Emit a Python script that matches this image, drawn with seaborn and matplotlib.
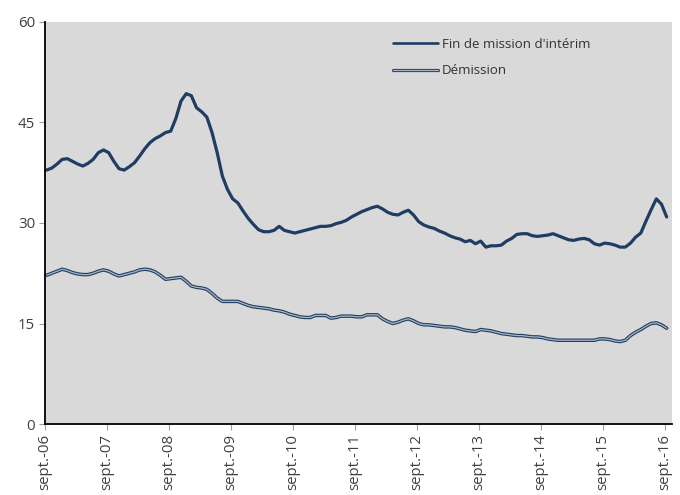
import numpy as np
import pandas as pd
import matplotlib
matplotlib.use("Agg")
import matplotlib.pyplot as plt
import matplotlib.patheffects as pe
import seaborn as sns

# Monthly data, sept. 2006 -> sept. 2016
fin_mission = [
    37.9, 38.2, 38.8, 39.5, 39.6, 39.2, 38.8, 38.5, 38.9, 39.5,
    40.5, 40.9, 40.5, 39.2, 38.1, 37.9, 38.4, 39.0, 40.0, 41.1,
    42.0, 42.6, 43.0, 43.5, 43.7, 45.6, 48.2, 49.3, 49.0, 47.2,
    46.6, 45.8, 43.5, 40.5, 37.0, 35.0, 33.6, 33.0, 31.8, 30.7,
    29.8, 29.0, 28.7, 28.7, 28.9, 29.5, 28.9, 28.7, 28.5, 28.7,
    28.9, 29.1, 29.3, 29.5, 29.5, 29.6, 29.9, 30.1, 30.4, 30.9,
    31.3, 31.7, 32.0, 32.3, 32.5, 32.1, 31.6, 31.3, 31.2, 31.6,
    31.9, 31.2, 30.2, 29.7, 29.4, 29.2, 28.8, 28.5, 28.1, 27.8,
    27.6, 27.2, 27.4, 26.9, 27.3, 26.4, 26.6, 26.6, 26.7, 27.3,
    27.7, 28.3, 28.4, 28.4, 28.1, 28.0, 28.1, 28.2, 28.4, 28.1,
    27.8, 27.5, 27.4, 27.6, 27.7, 27.5, 26.9, 26.7, 27.0, 26.9,
    26.7, 26.4, 26.4, 27.0, 27.9, 28.5, 30.3, 32.0, 33.6, 32.8,
    30.9,
]
demission = [
    22.2, 22.5, 22.8, 23.1, 22.9, 22.6, 22.4, 22.3, 22.3, 22.5,
    22.8, 23.0, 22.8, 22.4, 22.1, 22.3, 22.5, 22.7, 23.0, 23.1,
    23.0, 22.7, 22.2, 21.6, 21.7, 21.8, 21.9, 21.3, 20.6, 20.4,
    20.3, 20.1, 19.5, 18.8, 18.3, 18.3, 18.3, 18.3, 18.0, 17.7,
    17.5, 17.4, 17.3, 17.2, 17.0, 16.9, 16.7, 16.4, 16.2, 16.0,
    15.9, 15.9, 16.2, 16.2, 16.2, 15.8, 15.9, 16.1, 16.1, 16.1,
    16.0, 16.0, 16.3, 16.3, 16.3, 15.7, 15.3, 15.0, 15.2, 15.5,
    15.7, 15.4, 15.0, 14.8, 14.8, 14.7, 14.6, 14.5, 14.5, 14.4,
    14.2, 14.0, 13.9, 13.8, 14.1, 14.0, 13.9, 13.7, 13.5, 13.4,
    13.3, 13.2, 13.2, 13.1, 13.0, 13.0, 12.9, 12.7, 12.6, 12.5,
    12.5, 12.5, 12.5, 12.5, 12.5, 12.5, 12.5, 12.7, 12.7, 12.6,
    12.4, 12.3, 12.5, 13.2, 13.7, 14.1, 14.6, 15.0, 15.1, 14.8,
    14.3,
]
tick_labels = ["sept.-06", "sept.-07", "sept.-08", "sept.-09", "sept.-10",
               "sept.-11", "sept.-12", "sept.-13", "sept.-14", "sept.-15",
               "sept.-16"]
y_ticks = [0, 15, 30, 45, 60]
series_names = ["Fin de mission d'intérim", "Démission"]

months = np.arange(len(fin_mission))
df = pd.DataFrame({"mois": months, "fin": fin_mission, "dem": demission})

sns.set_theme(style="white")
plt.rcParams["font.family"] = ["Open Sans", "DejaVu Sans"]

fig = plt.figure(figsize=(6.8, 4.95), dpi=100)
ax = fig.add_axes([0.066, 0.1434, 0.922, 0.8122])
ax.set_facecolor("#d9d9d9")

navy = "#1f3d63"
sns.lineplot(data=df, x="mois", y="fin", ax=ax, color=navy, lw=2.3,
             label=series_names[0])
sns.lineplot(data=df, x="mois", y="dem", ax=ax, color=navy, lw=2.5,
             label=series_names[1])
l2 = ax.get_lines()[1]
l2.set_path_effects([pe.Normal(),
                     pe.Stroke(linewidth=0.9, foreground="#aab6c6")])

ax.set_xlim(-0.35, 121.0)
ax.set_ylim(0, 60)
ax.set_xticks(np.arange(len(tick_labels)) * 12 - 0.35)
ax.set_xticklabels(tick_labels, rotation=90, fontsize=10.8, color="#404040")
ax.set_yticks(y_ticks)
ax.set_yticklabels([str(v) for v in y_ticks], fontsize=10.8, color="#404040")
ax.set_xlabel("")
ax.set_ylabel("")
ax.tick_params(axis="both", which="both", length=4, width=0.8,
               color="#a0a0a0", direction="out", pad=3)
ax.tick_params(axis="x", bottom=True)
ax.tick_params(axis="y", left=True)

for s in ["top", "right"]:
    ax.spines[s].set_visible(False)
for s in ["left", "bottom"]:
    ax.spines[s].set_color("black")
    ax.spines[s].set_linewidth(1.3)

leg = ax.legend(loc="upper left", bbox_to_anchor=(0.555, 0.96),
                frameon=False, fontsize=9.6, handlelength=3.4,
                handletextpad=0.3, labelspacing=1.0, borderpad=0,
                borderaxespad=0)
leg.get_lines()[0].set_linewidth(1.9)
leg.get_lines()[1].set_linewidth(2.3)
for t in leg.get_texts():
    t.set_color("#333333")

fig.savefig("out.png", dpi=100)
